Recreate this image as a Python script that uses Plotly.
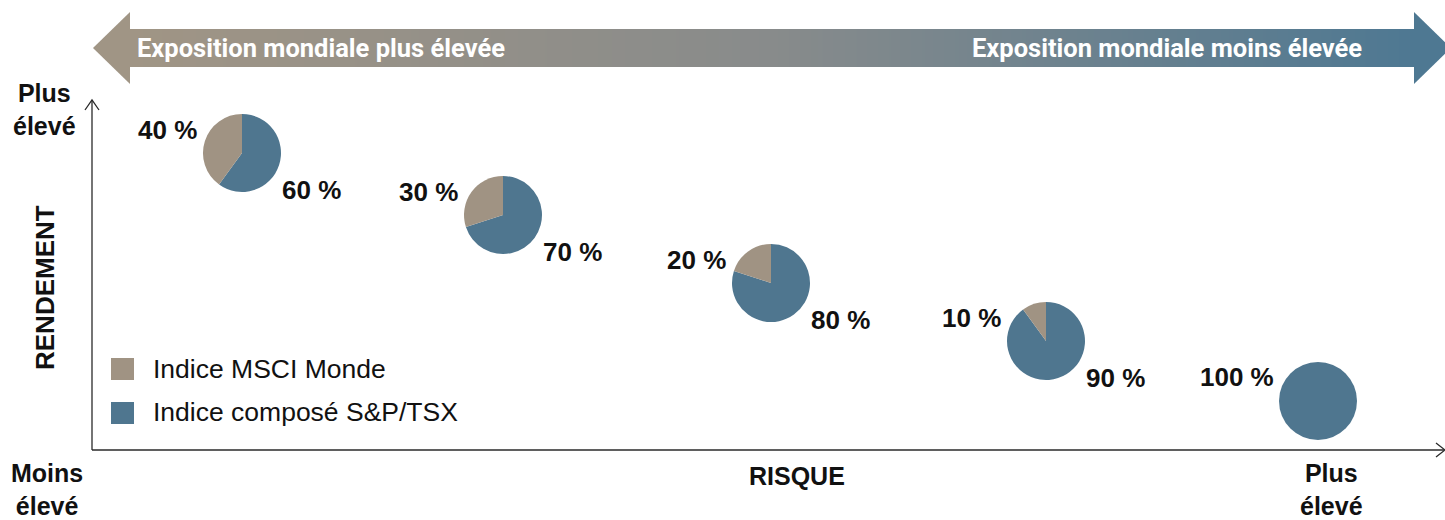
import plotly.graph_objects as go

W, H = 1445, 520

# ---- data ----
categories = ["Indice MSCI Monde", "Indice composé S&P/TSX"]
msci_share = [40, 30, 20, 10, 0]
tsx_share = [60, 70, 80, 90, 100]
band_left_text = "Exposition mondiale plus élevée"
band_right_text = "Exposition mondiale moins élevée"
x_title = "RISQUE"
y_title = "RENDEMENT"
low_label = "Moins<br>élevé"
high_label = "Plus<br>élevé"

# ---- layout constants (pixels) ----
pie_centers = [(242, 153), (503, 215), (771, 283), (1046, 341), (1318, 401)]
pie_r = 39
TAN = "#a09383"
BLUE = "#4f768f"
INK = "#111111"
AXIS = "#2a2a2a"


def fx(px):
    return px / W


def fy(py):
    return 1 - py / H


fig = go.Figure()

for (cx, cy), m, t in zip(pie_centers, msci_share, tsx_share):
    fig.add_trace(go.Pie(
        labels=[categories[1], categories[0]], values=[t, m], sort=False,
        direction="clockwise", rotation=0,
        marker=dict(colors=[BLUE, TAN], line=dict(width=0)),
        textinfo="none", hoverinfo="label+percent", showlegend=False,
        domain=dict(x=[fx(cx - pie_r), fx(cx + pie_r)],
                    y=[fy(cy + pie_r), fy(cy - pie_r)]),
    ))

# gradient band as a smooth heatmap
fig.add_trace(go.Heatmap(
    x=[0, 0.5, 1], y=[0], z=[[0, 0.5, 1]], zsmooth="best",
    colorscale=[[0, "#a09585"], [0.5, "#888b8b"], [1, "#4e7892"]],
    showscale=False, hoverinfo="skip", xaxis="x2", yaxis="y2",
))

shapes = []
# arrow heads
shapes.append(dict(type="path", xref="paper", yref="paper",
                   path=f"M {fx(130)},{fy(12)} L {fx(93)},{fy(48)} L {fx(130)},{fy(84)} Z",
                   fillcolor="#a09585", line=dict(width=0)))
shapes.append(dict(type="path", xref="paper", yref="paper",
                   path=f"M {fx(1414)},{fy(12)} L {fx(1451)},{fy(48)} L {fx(1414)},{fy(84)} Z",
                   fillcolor="#4e7892", line=dict(width=0)))
# axes
ax_line = dict(color=AXIS, width=1.3)
shapes.append(dict(type="line", xref="paper", yref="paper",
                   x0=fx(92), y0=fy(450), x1=fx(92), y1=fy(100), line=ax_line))
shapes.append(dict(type="line", xref="paper", yref="paper",
                   x0=fx(92), y0=fy(450), x1=fx(1444), y1=fy(450), line=ax_line))
shapes.append(dict(type="path", xref="paper", yref="paper",
                   path=f"M {fx(85)},{fy(110)} L {fx(92)},{fy(100)} L {fx(99)},{fy(110)}",
                   line=ax_line))
shapes.append(dict(type="path", xref="paper", yref="paper",
                   path=f"M {fx(1436)},{fy(443)} L {fx(1445)},{fy(450)} L {fx(1436)},{fy(457)}",
                   line=ax_line))
# legend swatches
for i, col in enumerate([TAN, BLUE]):
    y0 = 358 + i * 44
    shapes.append(dict(type="rect", xref="paper", yref="paper",
                       x0=fx(111), x1=fx(134), y0=fy(y0), y1=fy(y0 + 22),
                       fillcolor=col, line=dict(width=0)))

ann = []
FAM = "Liberation Sans, Arial, sans-serif"
bold = dict(family=FAM, size=25, color=INK)
bold26 = dict(family=FAM, size=26, color=INK)


def label(text, x, y, xanchor="center", yanchor="middle", font=bold, **kw):
    ann.append(dict(text=text, x=fx(x), y=fy(y), xref="paper", yref="paper",
                    xanchor=xanchor, yanchor=yanchor, showarrow=False,
                    font=font, borderpad=0, **kw))


for (cx, cy), m, t in zip(pie_centers, msci_share, tsx_share):
    if m > 0:
        label(f"<b>{m} %</b>", cx - 44, cy - 23, xanchor="right", font=bold26)
        label(f"<b>{t} %</b>", cx + 39, cy + 37, xanchor="left", font=bold26)
    else:
        label(f"<b>{t} %</b>", cx - 43, cy - 24, xanchor="right", font=bold26)

band_font = dict(family="Roboto, sans-serif", size=25.5, color="white")
label(f"<b>{band_left_text}</b>", 136, 48, xanchor="left", font=band_font)
label(f"<b>{band_right_text}</b>", 1363, 48, xanchor="right", font=band_font)

label(f"<b>{high_label}</b>", 44, 109, align="center")
label(f"<b>{low_label}</b>", 47, 489, align="center")
label(f"<b>{high_label}</b>", 1331, 489, align="center")
label(f"<b>{x_title}</b>", 797, 476)
label(f"<b>{y_title}</b>", 45, 288, textangle=-90, font=bold26)

leg_font = dict(family=FAM, size=26.5, color=INK)
label(categories[0], 152, 369, xanchor="left", font=leg_font)
label(categories[1], 152, 412, xanchor="left", font=leg_font)

fig.update_layout(
    width=W, height=H, margin=dict(l=0, r=0, t=0, b=0),
    paper_bgcolor="white", plot_bgcolor="white",
    xaxis2=dict(domain=[fx(129), fx(1415)], range=[0, 1], visible=False, fixedrange=True),
    yaxis2=dict(domain=[fy(67), fy(29)], range=[-0.5, 0.5], visible=False, fixedrange=True),
    xaxis=dict(visible=False), yaxis=dict(visible=False),
    shapes=shapes, annotations=ann,
)

fig.write_html("out.html", config={"displayModeBar": False},
               post_script="document.body.style.margin='0px';")
